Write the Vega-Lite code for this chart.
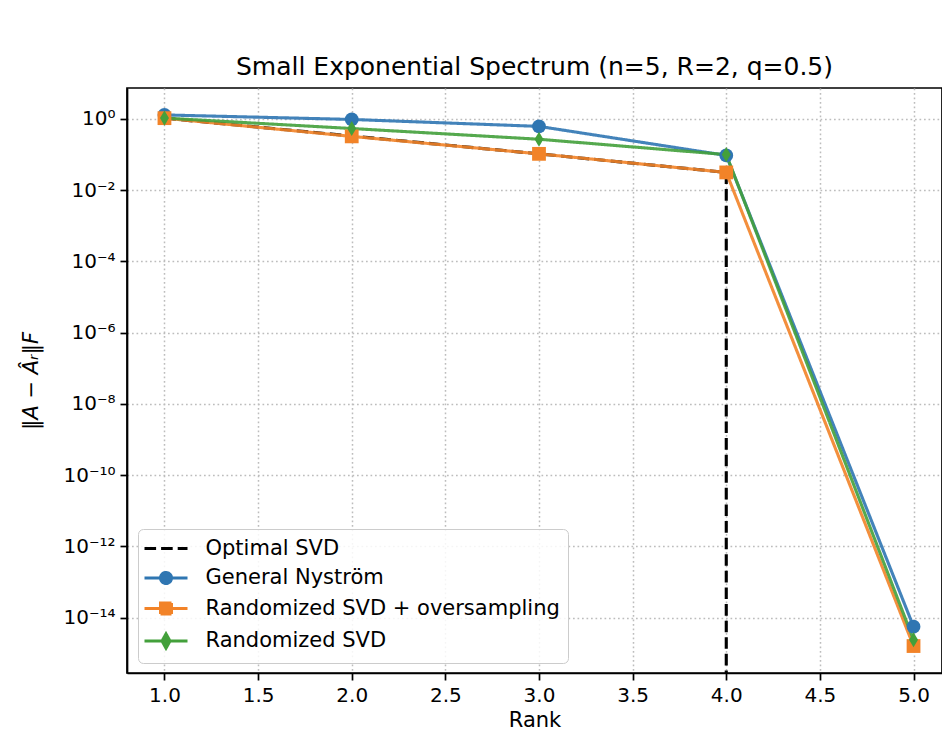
{
  "$schema": "https://vega.github.io/schema/vega-lite/v6.json",
  "width": 815,
  "height": 585,
  "autosize": {"type": "none"},
  "padding": {"left": 127, "top": 88, "right": 0, "bottom": 65},
  "background": "white",
  "title": {
    "text": "Small Exponential Spectrum (n=5, R=2, q=0.5)",
    "font": "DejaVu Sans",
    "fontSize": 25,
    "fontWeight": "normal",
    "color": "black",
    "anchor": "middle",
    "offset": 8
  },
  "config": {
    "view": {"stroke": "black", "strokeWidth": 1.7},
    "axis": {
      "labelFont": "DejaVu Sans",
      "titleFont": "DejaVu Sans",
      "labelFontSize": 20,
      "titleFontSize": 21,
      "titleFontWeight": "normal",
      "labelColor": "black",
      "titleColor": "black",
      "domainColor": "black",
      "domainWidth": 1.7,
      "tickColor": "black",
      "tickWidth": 1.7,
      "tickSize": 7,
      "gridColor": "#bdbdbd",
      "gridDash": [1.7, 2.8],
      "gridWidth": 1.5
    }
  },
  "data": {
    "values": [
      {"series": "Optimal SVD", "rank": 1, "error": 1.054},
      {"series": "Optimal SVD", "rank": 2, "error": 0.333},
      {"series": "Optimal SVD", "rank": 3, "error": 0.1049},
      {"series": "Optimal SVD", "rank": 4, "error": 0.0316},
      {"series": "General Nyström", "rank": 1, "error": 1.3},
      {"series": "General Nyström", "rank": 2, "error": 0.97},
      {"series": "General Nyström", "rank": 3, "error": 0.62},
      {"series": "General Nyström", "rank": 4, "error": 0.095},
      {"series": "General Nyström", "rank": 5, "error": 5.6e-15},
      {"series": "Randomized SVD + oversampling", "rank": 1, "error": 1.054},
      {"series": "Randomized SVD + oversampling", "rank": 2, "error": 0.325},
      {"series": "Randomized SVD + oversampling", "rank": 3, "error": 0.105},
      {"series": "Randomized SVD + oversampling", "rank": 4, "error": 0.0316},
      {"series": "Randomized SVD + oversampling", "rank": 5, "error": 1.6e-15},
      {"series": "Randomized SVD", "rank": 1, "error": 1.06},
      {"series": "Randomized SVD", "rank": 2, "error": 0.54},
      {"series": "Randomized SVD", "rank": 3, "error": 0.27},
      {"series": "Randomized SVD", "rank": 4, "error": 0.1},
      {"series": "Randomized SVD", "rank": 5, "error": 2.4e-15}
    ]
  },
  "encoding": {
    "x": {
      "field": "rank",
      "type": "quantitative",
      "scale": {"domain": [0.8, 5.152], "nice": false, "zero": false},
      "axis": {
        "values": [1, 1.5, 2, 2.5, 3, 3.5, 4, 4.5, 5],
        "format": ".1f",
        "title": "Rank",
        "labelPadding": 5,
        "titlePadding": 4
      }
    },
    "y": {
      "field": "error",
      "type": "quantitative",
      "scale": {"type": "log", "domain": [2.8e-16, 7.41], "nice": false},
      "axis": {
        "values": [1, 0.01, 0.0001, 1e-6, 1e-8, 1e-10, 1e-12, 1e-14],
        "labelExpr": "'10' + replace(replace(replace(replace(replace(replace(replace('' + round(log(datum.value)/LN10), '-', '⁻'), '0', '⁰'), '1', '¹'), '2', '²'), '4', '⁴'), '6', '⁶'), '8', '⁸')",
        "title": "‖A − Âᵣ‖F",
        "titleFontStyle": "italic",
        "labelPadding": 5,
        "titlePadding": 21
      }
    },
    "color": {
      "field": "series",
      "type": "nominal",
      "scale": {
        "domain": ["Optimal SVD", "General Nyström", "Randomized SVD + oversampling", "Randomized SVD"],
        "range": ["#000000", "#2f76b2", "#f28328", "#43a03b"]
      },
      "legend": {
        "title": null,
        "orient": "bottom-left",
        "offset": 10.5,
        "padding": 8,
        "fillColor": "rgba(255,255,255,0.85)",
        "strokeColor": "#cccccc",
        "cornerRadius": 5,
        "labelFont": "DejaVu Sans",
        "labelFontSize": 21,
        "labelColor": "black",
        "labelLimit": 600,
        "symbolSize": 400,
        "symbolStrokeWidth": 3,
        "symbolType": "circle",
        "labelOffset": 36.5,
        "rowPadding": 7.5,
        "encode": {
          "symbols": {
            "update": {
              "shape": {"signal": "datum.value === 'Optimal SVD' ? 'M-1.3,0H-0.14M0.36,0H1.52M2.02,0H3' : datum.value === 'General Nyström' ? 'M-1.3,0H3M1.4,0A0.55,0.55,0,1,1,0.3,0A0.55,0.55,0,1,1,1.4,0' : datum.value === 'Randomized SVD' ? 'M-1.3,0H3M0.85,-0.72L1.25,0L0.85,0.72L0.45,0Z' : 'M-1.3,0H3M0.3,-0.55H1.4V0.55H0.3Z'"},
              "stroke": {"signal": "datum.value === 'Optimal SVD' ? '#000000' : datum.value === 'General Nyström' ? '#2f76b2' : datum.value === 'Randomized SVD' ? '#43a03b' : '#f28328'"},
              "fill": {"signal": "datum.value === 'Optimal SVD' ? 'transparent' : datum.value === 'General Nyström' ? '#2f76b2' : datum.value === 'Randomized SVD' ? '#43a03b' : '#f28328'"},
              "opacity": {"value": 1},
              "fillOpacity": {"value": 1},
              "strokeOpacity": {"value": 1}
            }
          }
        }
      }
    }
  },
  "layer": [
    {
      "data": {"values": [{"series": "Optimal SVD", "rank": 4, "error": 0.0316, "floor": 1e-17}]},
      "mark": {"type": "rule", "strokeDash": [11.6, 5], "strokeWidth": 3.1, "clip": true},
      "encoding": {"y2": {"field": "floor"}}
    },
    {
      "mark": {"type": "line", "strokeWidth": 3.1, "opacity": 0.9},
      "encoding": {
        "strokeDash": {
          "field": "series",
          "type": "nominal",
          "scale": {
            "domain": ["Optimal SVD", "General Nyström", "Randomized SVD + oversampling", "Randomized SVD"],
            "range": [[11.6, 5], [1, 0], [1, 0], [1, 0]]
          },
          "legend": null
        }
      }
    },
    {
      "transform": [{"filter": "datum.series !== 'Optimal SVD'"}],
      "mark": {"type": "point", "filled": true, "opacity": 1, "size": 190, "strokeWidth": 0},
      "encoding": {
        "shape": {
          "field": "series",
          "type": "nominal",
          "scale": {
            "domain": ["General Nyström", "Randomized SVD + oversampling", "Randomized SVD"],
            "range": ["circle", "square", "M0,-1.1L0.65,0L0,1.1L-0.65,0Z"]
          },
          "legend": null
        }
      }
    }
  ]
}
